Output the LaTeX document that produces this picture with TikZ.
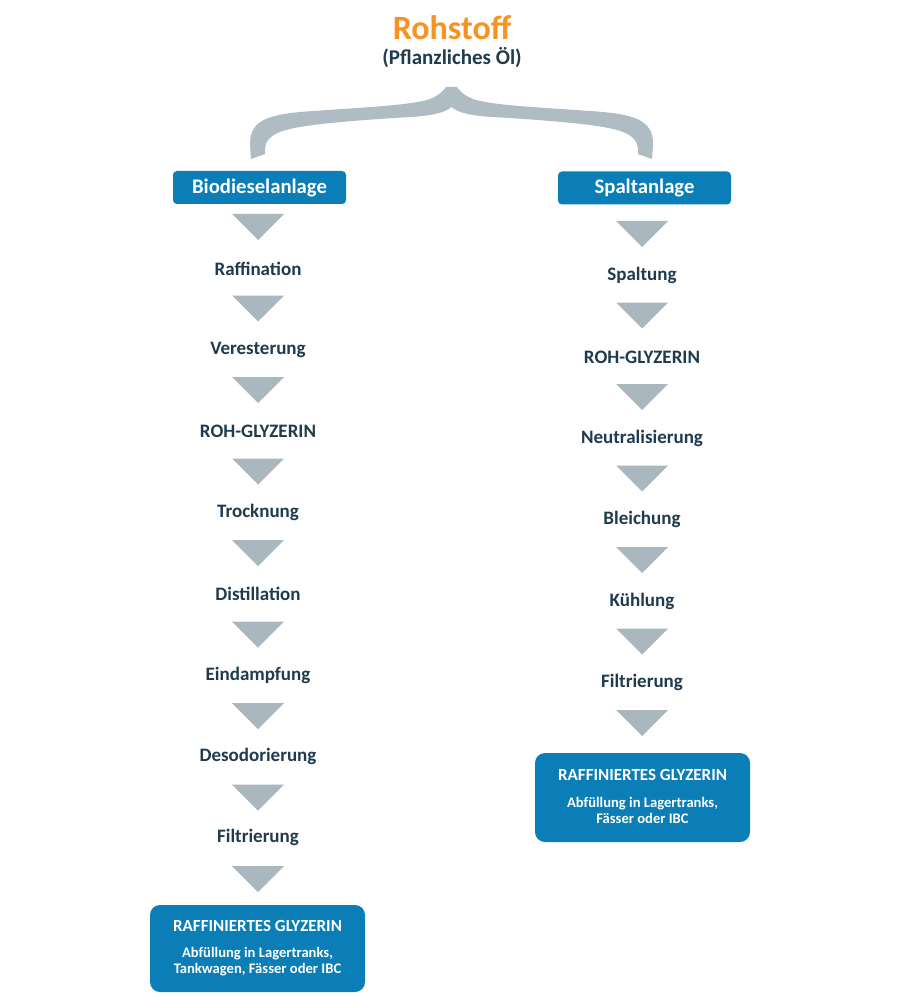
\documentclass[tikz,border=0pt]{standalone}
\usepackage{fontspec}
\setmainfont{Carlito}
\definecolor{boxblue}{HTML}{0B7DB7}
\definecolor{trigray}{HTML}{AAB7BF}
\definecolor{bracegray}{HTML}{AFBCC3}
\definecolor{darktext}{HTML}{1F3B4D}
\definecolor{rohorange}{HTML}{F7931E}
\tikzset{
  steplabel/.style={font=\bfseries\fontsize{19}{22}\selectfont, text=darktext, inner sep=0pt, anchor=center},
  headbox/.style={fill=boxblue, rounded corners=4pt, text=white, font=\bfseries\fontsize{20.7}{24}\selectfont, inner sep=0pt, minimum width=173pt, minimum height=33pt},
  finalbox/.style={fill=boxblue, rounded corners=10pt, text=white, inner sep=0pt, align=center},
  fintitle/.style={font=\bfseries\fontsize{17}{20}\selectfont, text=white, inner sep=0pt},
  finsub/.style={font=\bfseries\fontsize{14.6}{18}\selectfont, text=white, inner sep=0pt, align=center},
  arrowtri/.style={fill=trigray}
}
\newcommand{\downtri}[2]{\fill[arrowtri] (#1-26,#2) -- (#1+26,#2) -- (#1,#2+26) -- cycle;}
\begin{document}
\begin{tikzpicture}[x=1pt,y=-1pt]
\useasboundingbox[fill=white] (0,0) rectangle (900,1000);
% title
\node[font=\bfseries\fontsize{34}{38}\selectfont, text=rohorange, inner sep=0pt] (roh) at (452,28) {Rohstoff};
\node[font=\bfseries\fontsize{21}{24}\selectfont, text=darktext, inner sep=0pt] (oel) at (452,58) {(Pflanzliches Öl)};
% brace
\fill[bracegray] (446,87) .. controls (444,90) and (440,95) .. (430,99)
  .. controls (410,106) and (350,108) .. (300,112)
  .. controls (270,115) and (249,120) .. (250,145) -- (251,159) -- (265,154) -- (265,150)
  .. controls (265,140) and (272,133) .. (290,129)
  .. controls (310,124) and (360,120) .. (410,117)
  .. controls (430,116) and (445,113) .. (451.5,107)
  .. controls (458,113) and (473,116) .. (493,117)
  .. controls (543,120) and (593,124) .. (613,129)
  .. controls (631,133) and (638,140) .. (638,150) -- (638,154) -- (652,159) -- (653,145)
  .. controls (654,120) and (633,115) .. (603,112)
  .. controls (553,108) and (493,106) .. (473,99)
  .. controls (463,95) and (459,90) .. (457,87) -- cycle;
% head boxes
\node[headbox] (bio) at (259.5,187.5) {Biodieselanlage};
\node[headbox] (spalt) at (644.5,188) {Spaltanlage};
% left column
\foreach \i/\t in {0/Raffination,1/Veresterung,2/ROH-GLYZERIN,3/Trocknung,4/Distillation,5/Eindampfung,6/Desodorierung,7/Filtrierung}{
  \node[steplabel] (L\i) at (258,268.5+81.3*\i) {\t};
}
\foreach \i in {0,...,8}{ \downtri{258}{214+81.5*\i} }
% right column
\foreach \i/\t in {0/Spaltung,1/ROH-GLYZERIN,2/Neutralisierung,3/Bleichung,4/Kühlung,5/Filtrierung}{
  \node[steplabel] (R\i) at (642,275.5+81.4*\i) {\t};
}
\foreach \i in {0,...,6}{ \downtri{642}{221+81.5*\i} }
% final boxes
\node[finalbox, minimum width=215pt, minimum height=87pt] (finL) at (257.5,948.5) {};
\node[fintitle] (finLt) at (257.5,926) {RAFFINIERTES GLYZERIN};
\node[finsub] (finLs) at (257.5,961.5) {Abfüllung in Lagertranks,\\[-1.5pt]Tankwagen, Fässer oder IBC};
\node[finalbox, minimum width=215pt, minimum height=89pt] (finR) at (642.5,797.5) {};
\node[fintitle] (finRt) at (642.5,775) {RAFFINIERTES GLYZERIN};
\node[finsub] (finRs) at (642.5,810.5) {Abfüllung in Lagertranks,\\[-1.5pt]Fässer oder IBC};
\end{tikzpicture}
\end{document}
